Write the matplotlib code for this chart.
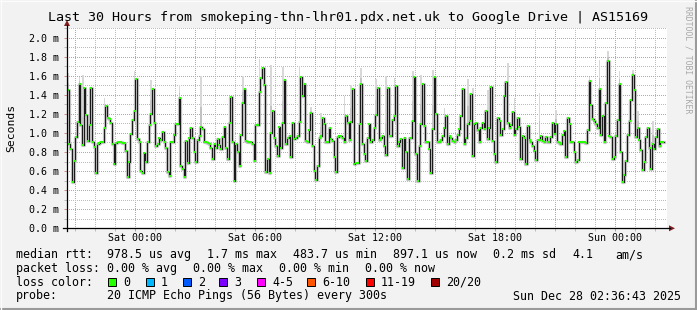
"""SmokePing style latency graph (last 30 hours) redrawn with matplotlib."""
import matplotlib
matplotlib.use("Agg")
import matplotlib.dates as mdates
import matplotlib.pyplot as plt
from matplotlib.lines import Line2D
from matplotlib.patches import Polygon, Rectangle
from matplotlib.ticker import MultipleLocator
import numpy as np
import pandas as pd

# ---------------------------------------------------------------------------
# Data
# ---------------------------------------------------------------------------

START = pd.Timestamp("2025-12-26 20:36:43")
END = pd.Timestamp("2025-12-28 02:36:43")
STEP = pd.Timedelta("5min")

# median rtt per 5 minute step, in ms
median_ms = [
    # Fri 20:37 ->
    1.45, 0.88, 0.83, 0.49, 0.71, 0.96, 1.11, 1.51, 1.08, 0.87, 1.47, 1.19,
    0.92, 1.08, 1.47, 0.91, 0.85, 0.58, 0.88, 0.89, 0.91, 0.90, 1.05, 1.28,
    1.16, 1.15, 1.10, 0.88, 0.67, 0.89, 0.90, 0.90, 0.90, 0.89, 0.89, 0.81,
    0.54, 0.69, 0.99, 1.14, 1.23, 1.57, 0.94, 0.90, 0.60, 0.58, 0.79, 0.69,
    0.90, 1.08, 1.20, 1.46, 1.10, 0.86, 0.88, 0.95, 0.93, 1.01, 0.90, 0.84,
    0.59,
    # Sat 01:42 ->
    0.55, 0.91, 0.90, 0.98, 1.09, 1.09, 1.37, 0.65, 0.62, 0.54, 0.92, 0.68,
    0.95, 1.05, 0.95, 0.80, 0.70, 0.93, 0.97, 1.06, 1.04, 0.90, 0.90, 0.89,
    0.88, 0.84, 0.73, 0.88, 0.84, 0.94, 0.87, 0.83, 0.96, 1.06, 0.84, 0.73,
    1.10, 1.38, 0.90, 0.50, 0.88, 0.80, 0.65, 0.98, 1.31, 1.46, 0.92, 0.91,
    0.90, 0.91, 0.88, 0.71, 1.08, 1.08, 1.43, 1.58, 1.68, 1.50, 0.59, 0.73,
    # Sat 06:42 ->
    0.58, 1.00, 1.23, 0.95, 0.86, 0.76, 1.06, 0.84, 1.10, 1.56, 0.88, 0.95,
    0.97, 0.75, 1.10, 0.94, 0.95, 0.97, 1.11, 1.59, 1.39, 1.51, 0.92, 0.91,
    1.03, 1.21, 0.86, 0.60, 0.51, 0.65, 0.95, 0.97, 1.16, 1.09, 0.90, 0.91,
    1.05, 0.94, 0.92, 0.75, 0.59, 0.96, 0.97, 0.97, 0.95, 0.91, 1.18, 1.10,
    0.93, 1.11, 1.46, 0.67, 0.68, 0.68, 1.09, 1.51, 0.88, 0.78, 0.71, 0.95,
    # Sat 11:42 ->
    1.09, 0.91, 0.93, 1.05, 1.19, 1.47, 0.93, 0.95, 0.97, 0.86, 0.77, 1.47,
    0.97, 0.97, 1.14, 1.18, 1.49, 0.86, 0.90, 0.94, 0.63, 0.95, 0.80, 0.52,
    0.95, 0.95, 1.13, 1.59, 0.78, 0.50, 0.86, 1.09, 1.51, 1.07, 0.91, 0.91,
    0.83, 0.58, 1.04, 1.59, 1.20, 0.90, 0.90, 0.93, 0.97, 1.05, 1.18, 0.88,
    0.97, 0.95, 0.92, 0.91, 0.93, 0.98, 1.04, 1.18, 1.46, 0.88, 0.95, 1.09,
    # Sat 16:42 ->
    1.13, 1.41, 0.76, 1.09, 1.10, 1.03, 0.90, 1.05, 1.10, 1.04, 1.23, 0.94,
    1.05, 1.48, 0.92, 0.78, 0.69, 1.16, 1.12, 0.98, 1.04, 1.39, 1.53, 1.10,
    1.05, 1.08, 1.22, 0.98, 1.04, 1.16, 1.06, 0.73, 0.97, 0.95, 0.67, 1.07,
    0.93, 0.91, 0.86, 0.81, 0.72, 0.93, 0.93, 0.97, 0.92, 0.91, 0.96, 0.91,
    0.90, 0.96, 1.10, 0.99, 1.09, 0.90, 0.89, 0.88, 0.98, 1.02, 0.75,
    # Sat 21:37 ->
    1.16, 1.09, 0.91, 0.90, 0.80, 0.69, 0.72, 0.90, 0.91, 0.90, 0.90, 0.89,
    1.03, 1.54, 1.29, 1.15, 1.13, 1.09, 1.05, 1.46, 0.98, 1.18, 0.91, 1.31,
    1.75, 0.97, 0.96, 0.73, 0.75, 0.97, 1.14, 1.51, 0.80, 0.49, 0.56, 0.71,
    0.98, 1.12, 1.34, 1.61, 1.45, 0.96, 1.05, 0.93, 0.82, 0.61, 0.69, 0.96,
    1.05, 0.84, 0.62, 0.88, 0.83, 0.96, 1.04, 0.86, 0.90, 0.90,
]

# tall light smoke columns (slowest pings), top in ms
smoke_times = [
    "2025-12-26 20:37", "2025-12-26 21:14", "2025-12-26 21:26", "2025-12-26 22:30",
    "2025-12-27 00:01", "2025-12-27 00:49", "2025-12-27 02:15", "2025-12-27 03:21",
    "2025-12-27 05:26", "2025-12-27 06:16", "2025-12-27 06:51", "2025-12-27 07:26",
    "2025-12-27 08:16", "2025-12-27 08:26", "2025-12-27 08:47", "2025-12-27 09:21",
    "2025-12-27 10:31", "2025-12-27 10:50", "2025-12-27 11:17", "2025-12-27 12:06",
    "2025-12-27 12:36", "2025-12-27 13:01", "2025-12-27 13:55", "2025-12-27 14:21",
    "2025-12-27 14:55", "2025-12-27 15:30", "2025-12-27 16:37", "2025-12-27 16:52",
    "2025-12-27 17:39", "2025-12-27 17:54", "2025-12-27 18:39", "2025-12-27 18:59",
    "2025-12-27 20:14", "2025-12-27 21:04", "2025-12-27 22:44", "2025-12-27 23:15",
    "2025-12-27 23:41", "2025-12-28 00:15", "2025-12-28 00:56", "2025-12-28 01:11",
    "2025-12-28 01:52",
]
smoke_tops = [
    1.63, 1.59, 1.61, 1.37, 1.65, 1.55, 1.50, 1.60, 1.60, 1.77, 1.71, 1.69,
    1.70, 1.59, 1.27, 1.21, 1.39, 1.50, 1.68, 1.57, 1.60, 1.58, 1.65, 1.61,
    1.66, 1.26, 1.57, 1.47, 1.45, 1.49, 1.73, 1.37, 1.42, 1.24, 1.59, 1.76,
    1.86, 1.65, 1.66, 1.23, 1.12,
]

x_tick_times = ["2025-12-27 00:00", "2025-12-27 06:00", "2025-12-27 12:00",
                "2025-12-27 18:00", "2025-12-28 00:00"]
x_tick_labels = ["Sat 00:00", "Sat 06:00", "Sat 12:00", "Sat 18:00", "Sun 00:00"]
y_ticks = [0.0, 0.2, 0.4, 0.6, 0.8, 1.0, 1.2, 1.4, 1.6, 1.8, 2.0]
y_tick_labels = ["0.0 m", "0.2 m", "0.4 m", "0.6 m", "0.8 m", "1.0 m",
                 "1.2 m", "1.4 m", "1.6 m", "1.8 m", "2.0 m"]

title = "Last 30 Hours from smokeping-thn-lhr01.pdx.net.uk to Google Drive | AS15169"
rtt_stats = ["median rtt:", "978.5 us avg", "1.7 ms max", "483.7 us min",
             "897.1 us now", "0.2 ms sd", "4.1", "am/s"]
loss_stats = ["packet loss:", "0.00 % avg", "0.00 % max", "0.00 % min", "0.00 % now"]
loss_labels = ["0", "1", "2", "3", "4-5", "6-10", "11-19", "20/20"]
loss_colors = ["#26ff00", "#00b8ff", "#0059ff", "#7e00ff",
               "#ff00ff", "#ff5500", "#ff0000", "#a10000"]
probe_text = "20 ICMP Echo Pings (56 Bytes) every 300s"
stamp_text = "Sun Dec 28 02:36:43 2025"

# ---------------------------------------------------------------------------
# Layout (pixel positions of the 697x310 rrdtool image)
# ---------------------------------------------------------------------------

W, H = 697, 310
PL, PR, PT, PB = 67, 667, 28, 228.3
MONO = "DejaVu Sans Mono"
GRID_MAJOR = "#ee9090"
GRID_MINOR = "#bdbdbd"

plt.rcParams["font.family"] = MONO


def fx(x):
    return x / W


def fy(y):
    return 1 - y / H


fig = plt.figure(figsize=(W / 100, H / 100), dpi=100, facecolor="#f2f2f2")
ax = fig.add_axes([fx(PL), fy(PB), (PR - PL) / W, (PB - PT) / H])
ax.set_facecolor("white")
ax.set_xlim(START, END)
ax.set_ylim(0, 2.1)
for sp in ax.spines.values():
    sp.set_visible(False)

# grid: hourly / every 3 hours, 0.1 ms / 0.2 ms  (dotted, pixel crisp)
for t in pd.date_range(START.ceil("h"), END, freq="h"):
    ax.axvline(t, color=GRID_MAJOR if t.hour % 3 == 0 else GRID_MINOR,
               lw=0.72, ls=(0, (1, 2)), antialiased=False, zorder=0)
for k in range(1, 22):
    ax.axhline(k / 10, color=GRID_MAJOR if k % 2 == 0 else GRID_MINOR,
               lw=0.72, ls=(0, (1, 2)), antialiased=False, zorder=0)

# series
times = pd.date_range(START, periods=len(median_ms), freq=STEP)
vals = np.array(median_ms)
t_ext = list(times) + [times[-1] + STEP]
v_ext = list(vals) + [vals[-1]]

# smoke: tall light columns + grey haze around the median
idx = np.clip(np.searchsorted(times, pd.to_datetime(smoke_times)) - 1, 0, len(vals) - 1)
base = vals[idx]
tops = np.array(smoke_tops)
bar_w = STEP / pd.Timedelta("1D")
ax.bar(times[idx], tops - base, bottom=base, width=bar_w,
       align="edge", color="#d8d8d8", lw=0, zorder=1)
ax.bar(times[idx], (tops - base) * 0.4, bottom=base, width=bar_w,
       align="edge", color="#c2c2c2", lw=0, zorder=1)
ax.step(t_ext, v_ext, where="post", color="#cfcfcf", lw=2.4, zorder=2)

# median line + loss colour
ax.step(t_ext, v_ext, where="post", color="#1a1a1a", lw=0.85, zorder=3)
ax.scatter(times + STEP / 2, vals, marker="s", s=3.0, color=loss_colors[0],
           linewidths=0, zorder=4)

# ticks
ax.set_xticks(pd.to_datetime(x_tick_times), x_tick_labels)
ax.xaxis.set_minor_locator(mdates.HourLocator())
ax.set_yticks(y_ticks, y_tick_labels)
ax.yaxis.set_minor_locator(MultipleLocator(0.1))
ax.tick_params(which="both", direction="out", length=2, width=0.7,
               color="#d08a8a", labelsize=7.2, labelcolor="black")
ax.tick_params(axis="x", pad=1.6)
ax.tick_params(axis="y", pad=3.8)
ax.tick_params(which="minor", color="#bbbbbb")

# axes with rrdtool arrows
fig.add_artist(Line2D([fx(63), fx(670)], [fy(PB), fy(PB)], color="black", lw=0.9))
fig.add_artist(Line2D([fx(PL), fx(PL)], [fy(231), fy(25)], color="black", lw=0.9))
fig.add_artist(Polygon([(fx(669), fy(PB - 3)), (fx(669), fy(PB + 3)), (fx(675), fy(PB))],
                       closed=True, color="#7f1f1f", lw=0))
fig.add_artist(Polygon([(fx(PL - 3), fy(26)), (fx(PL + 3), fy(26)), (fx(PL), fy(20))],
                       closed=True, color="#7f1f1f", lw=0))

# frame shading
fig.add_artist(Line2D([0, 1], [fy(H - 1), fy(H - 1)], color="#9a9a9a", lw=1.5))
fig.add_artist(Line2D([fx(W - 1), fx(W - 1)], [0, 1], color="#9a9a9a", lw=1.5))
fig.add_artist(Line2D([0, 1], [fy(0.5), fy(0.5)], color="#fcfcfc", lw=1))
fig.add_artist(Line2D([fx(0.5), fx(0.5)], [0, 1], color="#fcfcfc", lw=1))

# texts
fig.text(fx(348), fy(18), title, ha="center", va="center", size=9.6)
fig.text(fx(11), fy(128), "Seconds", rotation=90, ha="center", va="center", size=8.2)
fig.text(fx(688), fy(60), "RRDTOOL / TOBI OETIKER", rotation=270,
         ha="center", va="center", size=5.9, color="#a8a8a8")

LEG = dict(ha="left", va="center", size=8.4)
for s, x in zip(rtt_stats, [16, 107, 207, 293, 393, 493, 572, 615]):
    fig.text(fx(x), fy(254.5), s, **LEG)
for s, x in zip(loss_stats, [16, 107, 193, 279, 365]):
    fig.text(fx(x), fy(268.5), s, **LEG)
fig.text(fx(16), fy(282), "loss color:", **LEG)
for lab, col, x in zip(loss_labels, loss_colors, [108, 146, 183, 219, 257, 307, 366, 431]):
    fig.add_artist(Rectangle((fx(x), fy(286)), 8 / W, 8 / H, facecolor=col,
                             edgecolor="black", lw=0.7))
    fig.text(fx(x + 15), fy(282), lab, **LEG)
fig.text(fx(16), fy(296), "probe:", **LEG)
fig.text(fx(107), fy(296), probe_text, **LEG)
fig.text(fx(681), fy(296), stamp_text, ha="right", va="center", size=8.4)

fig.savefig("out.png", dpi=100, facecolor=fig.get_facecolor())
